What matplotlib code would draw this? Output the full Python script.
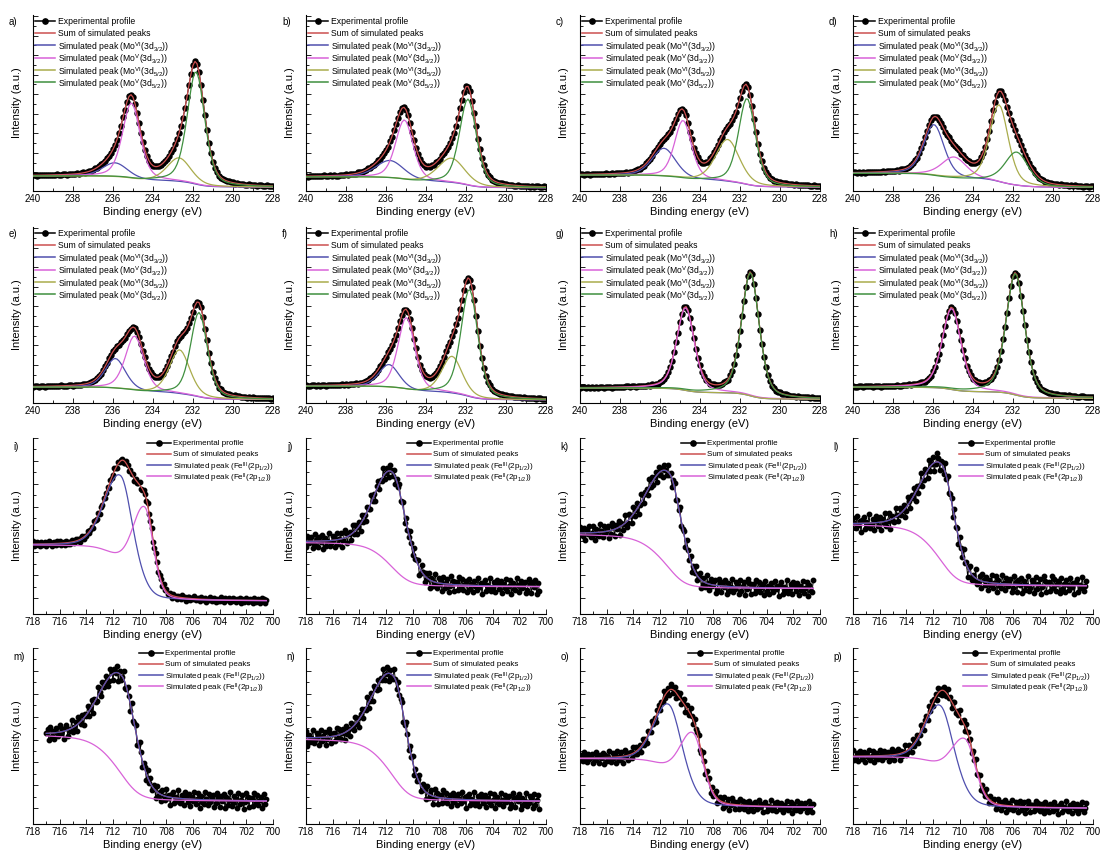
import numpy as np
import matplotlib.pyplot as plt
from matplotlib.ticker import FixedLocator

plt.rcParams['font.family'] = ['Liberation Sans', 'DejaVu Sans']
plt.rcParams['mathtext.fontset'] = 'custom'
plt.rcParams['mathtext.rm'] = 'Liberation Sans'
plt.rcParams['mathtext.it'] = 'Liberation Sans:italic'

# %% Data (intensity as fraction of panel height)

# Mo 3d panels a)-h)
mo_labels = ['a)', 'b)', 'c)', 'd)', 'e)', 'f)', 'g)', 'h)']
mo_bg_high = [0.085, 0.080, 0.090, 0.100, 0.090, 0.095, 0.085, 0.090]  # at 240 eV
mo_bg_low = [0.022, 0.018, 0.022, 0.020, 0.020, 0.018, 0.022, 0.027]   # at 228 eV
# (centre eV, height above background, HWHM eV)
mo_vi_32 = [(235.90, 0.08, 0.75), (235.80, 0.10, 0.85), (235.80, 0.16, 0.70),
            (235.95, 0.29, 0.60), (235.88, 0.17, 0.60), (235.85, 0.13, 0.60),
            (235.80, 0.00, 0.60), (235.80, 0.00, 0.60)]
mo_v_32 = [(235.08, 0.43, 0.52), (235.08, 0.34, 0.52), (234.85, 0.33, 0.50),
           (234.95, 0.12, 0.75), (234.92, 0.31, 0.55), (234.98, 0.41, 0.50),
           (234.72, 0.47, 0.52), (235.07, 0.46, 0.55)]
mo_vi_52 = [(232.70, 0.135, 0.70), (232.73, 0.14, 0.80), (232.62, 0.24, 0.70),
            (232.70, 0.44, 0.55), (232.67, 0.25, 0.60), (232.70, 0.21, 0.60),
            (232.60, 0.00, 0.60), (232.60, 0.00, 0.60)]
mo_v_52 = [(231.85, 0.64, 0.52), (231.90, 0.49, 0.50), (231.65, 0.49, 0.50),
           (231.82, 0.19, 0.70), (231.70, 0.48, 0.50), (231.83, 0.61, 0.50),
           (231.48, 0.70, 0.52), (231.88, 0.69, 0.55)]

# Fe 2p panels i)-p)
fe_labels = ['i)', 'j)', 'k)', 'l)', 'm)', 'n)', 'o)', 'p)']
fe_start = [718.0, 718.0, 718.0, 718.0, 717.0, 718.0, 718.0, 718.0]
fe_bg_high = [0.39, 0.405, 0.45, 0.505, 0.50, 0.48, 0.37, 0.38]
fe_bg_low = [0.075, 0.155, 0.145, 0.160, 0.13, 0.13, 0.095, 0.09]
# (centre eV, height, HWHM high-BE side, HWHM low-BE side)
fe_iii = [(711.4, 0.51, 1.4, 1.0), (711.5, 0.54, 1.6, 1.2), (711.3, 0.54, 1.9, 1.1),
          (711.3, 0.55, 1.8, 1.1), (711.3, 0.56, 1.9, 1.2), (711.4, 0.57, 1.8, 1.1),
          (711.3, 0.40, 1.3, 1.1), (711.4, 0.39, 1.3, 1.1)]
fe_ii = [(709.6, 0.47, 1.1, 0.75), (709.6, 0.0, 1.0, 0.9), (709.6, 0.0, 1.0, 0.9),
         (709.6, 0.0, 1.0, 0.9), (709.6, 0.0, 1.0, 0.9), (709.6, 0.0, 1.0, 0.9),
         (709.5, 0.36, 1.2, 0.9), (709.55, 0.33, 1.3, 0.9)]
fe_scatter = [0.015, 0.045, 0.045, 0.05, 0.045, 0.045, 0.035, 0.035]
fe_legend_x = [0.474, 0.42, 0.42, 0.44, 0.44, 0.42, 0.45, 0.46]

# Scatter of the measured points about the fit (read as typical residuals)
resid = [0.3, -0.8, 0.5, 1.0, -0.2, -1.0, 0.7, 0.1, -0.5, 0.9, -0.9, 0.2, 0.6, -0.3,
         -0.7, 1.0, 0.0, -0.6, 0.4, -1.0, 0.8, -0.1, 0.5, -0.8, 0.3, 0.9, -0.4, -0.9,
         0.6, 0.2, -0.2, 0.7, -0.7, 0.1, 1.0, -0.5, -0.3, 0.4, -1.0, 0.8, 0.0, -0.6,
         0.9, -0.2, 0.3, -0.9, 0.6, -0.4, 0.2, 0.8, -0.8, 0.5, -0.1, -0.6, 1.0, -0.3,
         0.1, -0.7, 0.7, 0.4, -1.0, 0.3, -0.2, 0.9, -0.5, 0.0, 0.6, -0.8, 0.2, -0.4,
         0.8, -0.9, 0.5, 0.1, -0.6, 0.7, -0.3, 1.0, -0.7, 0.4]

mo_names = ['Simulated peak (Mo$^{\\mathrm{VI}}$(3d$_{\\mathrm{3/2}}$))',
            'Simulated peak (Mo$^{\\mathrm{V}}$(3d$_{\\mathrm{3/2}}$))',
            'Simulated peak (Mo$^{\\mathrm{VI}}$(3d$_{\\mathrm{5/2}}$))',
            'Simulated peak (Mo$^{\\mathrm{V}}$(3d$_{\\mathrm{5/2}}$))']
fe_names = ['Simulated peak (Fe$^{\\mathrm{III}}$(2p$_{\\mathrm{1/2}}$))',
            'Simulated peak (Fe$^{\\mathrm{II}}$(2p$_{\\mathrm{1/2}}$))']

c_exp = 'black'
c_sum = '#cc5050'
c_blue = '#4f4fae'
c_mag = '#d862d8'
c_olive = '#a9ac4c'
c_green = '#3f903f'


# %% Peak shape and background

def pvoigt(x, centre, height, hw_hi, hw_lo, eta):
    w = np.where(x > centre, hw_hi, hw_lo)
    u = (x - centre) / w
    return height * (eta / (1 + u**2) + (1 - eta) * np.exp(-np.log(2) * u**2))


def shirley(x, peaks, b_lo, b_hi):
    # x ascending; background follows the peak area below each energy
    cum = np.concatenate([[0.0], np.cumsum(0.5 * (peaks[1:] + peaks[:-1]) * np.diff(x))])
    return b_lo + (b_hi - b_lo) * cum / cum[-1]


def style_axes(ax, xlim, xmaj, ystep, yoff):
    ax.set_xlim(*xlim)
    ax.set_ylim(0, 1)
    ax.spines['top'].set_visible(False)
    ax.spines['right'].set_visible(False)
    for s in ('left', 'bottom'):
        ax.spines[s].set_linewidth(0.8)
    ax.set_xticks(xmaj)
    ax.set_xticks(np.arange(min(xlim), max(xlim) + 0.01, 1), minor=True)
    ymaj = np.arange(yoff, 1.0001, ystep)
    ax.yaxis.set_major_locator(FixedLocator(ymaj))
    ax.yaxis.set_minor_locator(FixedLocator(ymaj[:-1] + ystep / 2))
    ax.set_yticklabels([])
    ax.tick_params(which='both', direction='in', width=0.6, labelsize=7, pad=2)
    ax.tick_params(which='major', length=3.5)
    ax.tick_params(which='minor', length=2)
    ax.set_xlabel('Binding energy (eV)', fontsize=8, labelpad=2)
    ax.set_ylabel('Intensity (a.u.)', fontsize=8, labelpad=6)


def draw_key(ax, x0, x1, xt, top_px, step_px, entries, fs):
    # Origin-style key with fixed row spacing
    for i, (label, col, mark) in enumerate(entries):
        y = 1 - (top_px + i * step_px) / ax_h
        ax.plot([x0, x1], [y, y], color=col, lw=1.1, transform=ax.transAxes, clip_on=False)
        if mark:
            ax.plot([(x0 + x1) / 2], [y], 'o', color=col, ms=3.8,
                    transform=ax.transAxes, clip_on=False)
        ax.text(xt, y, label, transform=ax.transAxes, fontsize=fs,
                ha='left', va='center_baseline')


# %% Figure layout

fig = plt.figure(figsize=(11.01, 8.59), dpi=100)
W, H = 1101, 859
col_left = [33, 306, 580, 853]
row_top = [15, 227, 438, 648]
ax_w, ax_h = 240, 176


def make_axes(row, col):
    return fig.add_axes([col_left[col] / W, 1 - (row_top[row] + ax_h) / H, ax_w / W, ax_h / H])


# %% Mo 3d panels

x_mo = np.arange(228.0, 240.001, 0.1)
for k in range(8):
    ax = make_axes(k // 4, k % 4)
    comps = [pvoigt(x_mo, c, h, w, w, 0.4) for (c, h, w) in
             (mo_vi_32[k], mo_v_32[k], mo_vi_52[k], mo_v_52[k])]
    peaks = np.sum(comps, axis=0)
    bg = shirley(x_mo, peaks, mo_bg_low[k], mo_bg_high[k])
    total = bg + peaks
    noise = np.array([resid[(j + 11 * k) % len(resid)] for j in range(len(x_mo))])
    exp = total + 0.003 * noise

    style_axes(ax, (240, 228), np.arange(228, 241, 2), 0.111, 0.106)
    ax.plot(x_mo, exp, '-o', color=c_exp, lw=0.8, ms=3.6, zorder=2)
    ax.plot(x_mo, total, color=c_sum, lw=0.9, zorder=3)
    for comp, col in zip(comps, [c_blue, c_mag, c_olive, c_green]):
        ax.plot(x_mo, bg + comp, color=col, lw=0.9, zorder=4)

    keys = [('Experimental profile', c_exp, True), ('Sum of simulated peaks', c_sum, False)]
    keys += list(zip(mo_names, [c_blue, c_mag, c_olive, c_green], [False] * 4))
    draw_key(ax, 0.008, 0.092, 0.105, 5.7, 12.3, keys, 6.2)
    ax.text(-0.1, 0.96, mo_labels[k], transform=ax.transAxes, fontsize=7, ha='left', va='center')

# %% Fe 2p panels

for k in range(8):
    ax = make_axes(2 + k // 4, k % 4)
    x_fe = np.arange(700.5, fe_start[k] + 0.001, 0.1)
    c3, h3, a3, b3 = fe_iii[k]
    c2, h2, a2, b2 = fe_ii[k]
    p3 = pvoigt(x_fe, c3, h3, a3, b3, 0.25)
    p2 = pvoigt(x_fe, c2, h2, a2, b2, 0.25)
    bg = shirley(x_fe, p3 + p2, fe_bg_low[k], fe_bg_high[k])
    total = bg + p3 + p2
    noise = np.array([resid[(j + 17 * k) % len(resid)] for j in range(len(x_fe))])
    exp = total + fe_scatter[k] * noise

    style_axes(ax, (718, 700), np.arange(700, 719, 2), 0.13, 0.09)
    ax.plot(x_fe, exp, '-o', color=c_exp, lw=0.7, ms=3.2, zorder=2)
    ax.plot(x_fe, total, color=c_sum, lw=0.9, zorder=3)
    ax.plot(x_fe, bg + p3, color=c_blue, lw=0.9, zorder=4)
    ax.plot(x_fe, bg + p2, color=c_mag, lw=0.9, zorder=4)

    lx = fe_legend_x[k]
    keys = [('Experimental profile', c_exp, True), ('Sum of simulated peaks', c_sum, False),
            (fe_names[0], c_blue, False), (fe_names[1], c_mag, False)]
    draw_key(ax, lx, lx + 0.1, lx + 0.11, 4.7, 11.1, keys, 5.8)
    ax.text(-0.08, 0.95, fe_labels[k], transform=ax.transAxes, fontsize=7, ha='left', va='center')

fig.savefig('out.png', dpi=100)
